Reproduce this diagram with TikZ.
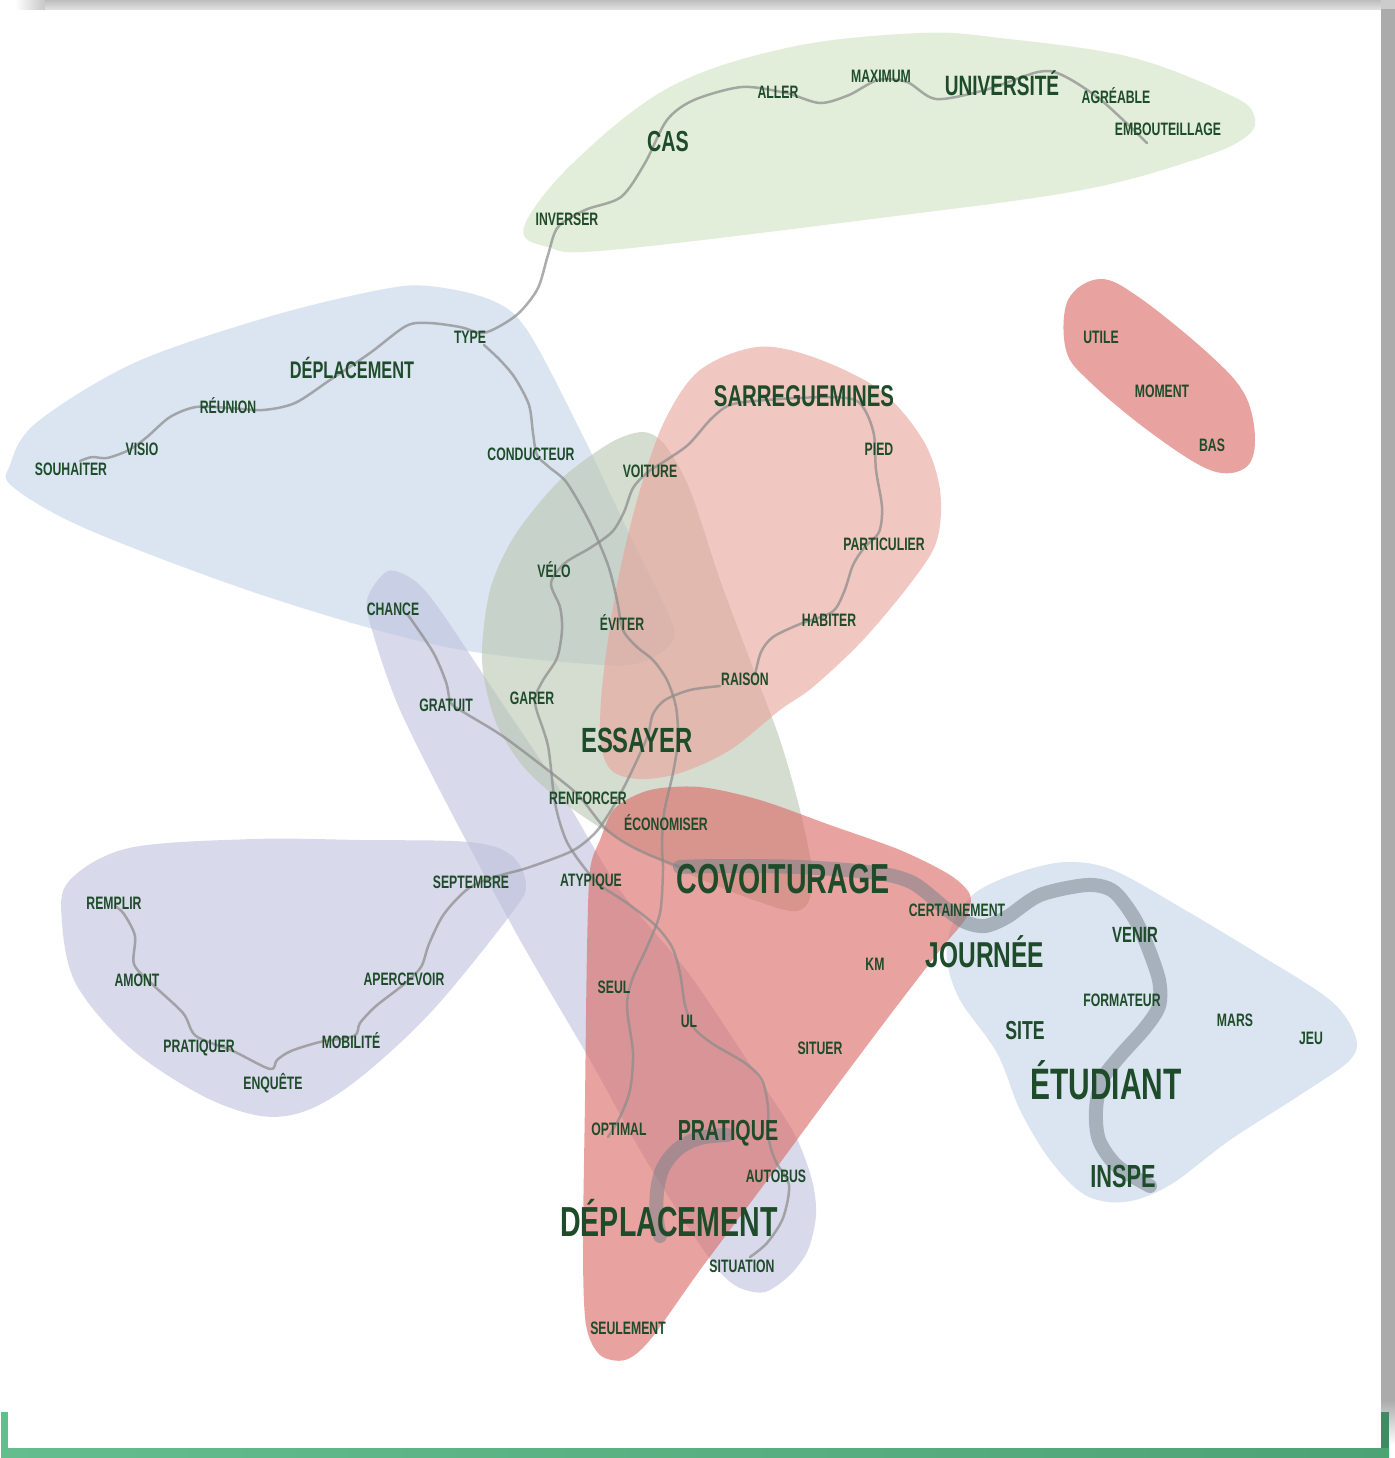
\documentclass[tikz,border=0pt]{standalone}
\usepackage{fontspec}
\newfontfamily\cf[FakeStretch=0.68]{Liberation Sans}
\definecolor{txt}{RGB}{30,76,42}
\definecolor{cBlue}{RGB}{195,213,232}
\definecolor{cGreen}{RGB}{207,228,193}
\definecolor{cOlive}{RGB}{185,198,177}
\definecolor{cPink}{RGB}{233,162,152}
\definecolor{cRed}{RGB}{218,103,97}
\definecolor{cLav}{RGB}{190,193,220}
\definecolor{cThick}{RGB}{120,130,138}
\definecolor{gA}{RGB}{99,189,140}
\definecolor{gB}{RGB}{78,163,116}
\begin{document}
\begin{tikzpicture}[x=0.5pt,y=-0.5pt,
 blob/.style={fill=#1,fill opacity=0.6,draw=none},
 gline/.style={draw=black!45,line width=1.25pt,opacity=0.72,line cap=round,line join=round},
 gthick/.style={draw=cThick,line width=7pt,opacity=0.52,line cap=round,line join=round},
 w/.style={font=\cf\bfseries\fontsize{#1}{#1}\selectfont,text=txt,inner sep=0pt,anchor=base}]
\useasboundingbox (0,0) rectangle (1395,1458);
\fill[white] (0,0) rectangle (1395,1458);
% frame shadows
\shade[left color=white,right color=black!22] (15,0) rectangle (45,9);
\shade[top color=black!26,bottom color=black!12] (45,0) rectangle (1381,9);
\fill[black!20] (1381,0) rectangle (1395,9);
\fill[black!33] (1381,9) rectangle (1395,1400);
\shade[top color=black!33,bottom color=white] (1381,1400) rectangle (1395,1445);
% green corner lines
\fill[gA] (1,1412) rectangle (8,1458);
\shade[left color=gA,right color=gB] (1,1448) rectangle (1389,1458);
\fill[gB!85!black] (1381,1412) rectangle (1389,1448);

% blobs
\fill[blob=cGreen] plot[smooth cycle,tension=0.6] coordinates {
 (524,227) (548,247) (611,250) (888,217) (1082,190) (1200,158) (1247,136) (1254,115) (1230,95) (1130,57) (1000,38) (920,33) (791,47) (670,87) (573,163)};
\fill[blob=cBlue] plot[smooth cycle,tension=0.55] coordinates {
 (429,286) (491,300) (527,330) (580,430) (625,525) (668,613) (673,640) (647,660) (603,665) (446,647) (268,597) (89,530) (13,487) (10,465) (36,423) (134,363) (268,317) (379,290)};
\fill[blob=cBlue] plot[smooth cycle,tension=0.55] coordinates {
 (1067,862) (1113,870) (1180,907) (1260,955) (1330,1000) (1355,1035) (1350,1060) (1300,1095) (1230,1140) (1170,1185) (1125,1202) (1085,1195) (1050,1160) (1020,1110) (997,1053) (960,1000) (947,960) (952,925) (975,893) (1020,872)};
\fill[blob=cLav] plot[smooth cycle,tension=0.55] coordinates {
 (254,839) (361,840) (469,842) (511,855) (526,885) (511,914) (433,1010) (361,1077) (308,1110) (261,1116) (201,1095) (129,1047) (76,984) (62,922) (69,881) (129,848)};
\fill[blob=cLav] plot[smooth cycle,tension=0.5] coordinates {
 (388,571) (415,581) (440,610) (500,700) (560,790) (620,890) (690,975) (760,1080) (795,1135) (812,1180) (816,1215) (808,1250) (790,1275) (765,1292) (740,1288) (720,1272) (690,1230) (640,1150) (590,1060) (520,940) (450,810) (400,710) (375,640) (367,600)};
\fill[blob=cOlive] plot[smooth cycle,tension=0.5] coordinates {
 (643,432) (665,445) (690,490) (720,580) (750,660) (780,740) (800,810) (812,870) (808,903) (790,911) (740,895) (680,870) (620,840) (560,800) (522,765) (495,720) (482,660) (490,590) (515,535) (560,480) (610,443)};
\fill[blob=cPink] plot[smooth cycle,tension=0.55] coordinates {
 (757,347) (813,357) (880,390) (923,440) (940,490) (937,540) (913,580) (863,640) (813,687) (780,710) (730,750) (680,773) (640,779) (612,771) (601,745) (601,700) (608,640) (620,570) (640,490) (665,420) (700,370)};
\fill[blob=cRed] plot[smooth cycle,tension=0.5] coordinates {
 (600,840) (615,808) (650,790) (700,787) (760,800) (830,825) (900,850) (950,875) (970,895) (966,918) (940,950) (890,1015) (830,1095) (760,1190) (700,1270) (650,1340) (625,1360) (600,1355) (586,1325) (583,1250) (585,1100) (587,950) (590,870)};
\fill[blob=cRed] plot[smooth cycle,tension=0.6] coordinates {
 (1100,279) (1140,298) (1210,355) (1245,395) (1255,440) (1245,468) (1210,470) (1150,432) (1090,382) (1066,350) (1068,300)};

% thin lines
\draw[gline] plot[smooth,tension=0.5] coordinates {
 (80,461) (92,457) (107,458) (129,450) (147,437) (170,417) (196,407) (230,408) (263,410) (295,403) (330,380) (370,353) (406,326) (429,323) (460,327) (482,333) (500,326) (520,312) (538,288) (548,255) (558,227) (585,210) (621,197) (645,163) (667,120) (694,100) (742,87) (786,93) (820,103) (849,95) (878,80) (907,82) (936,99) (985,90) (1038,72) (1062,75) (1101,100) (1147,143)};
\draw[gline] plot[smooth,tension=0.5] coordinates {
 (484,345) (500,360) (515,378) (529,405) (533,433) (537,455) (549,467) (567,483) (590,523) (608,565) (617,600) (623,630) (637,647) (653,660) (667,680) (676,707) (678,740) (673,773) (664,813) (662,847) (663,870) (660,913) (647,947) (632,980) (627,1007) (633,1053) (630,1090) (620,1117) (608,1137)};
\draw[gline] plot[smooth,tension=0.5] coordinates {
 (750,1257) (767,1243) (783,1218) (789,1185) (776,1162) (769,1140) (768,1107) (762,1080) (745,1063) (713,1044) (694,1028) (685,1005) (680,973) (672,947) (655,925) (627,903) (600,885) (583,866) (566,840) (555,803) (548,746) (535,703) (542,682) (557,658) (562,630) (560,607) (551,583) (565,563) (590,548) (612,532) (624,512) (633,488) (648,472) (668,459) (689,444) (712,418) (733,404) (780,399) (830,397) (855,400) (866,412) (874,435) (876,470) (882,507) (879,532) (864,548) (853,565) (844,592) (832,612) (800,624) (773,637) (761,652) (755,675)};
\draw[gline] plot[smooth,tension=0.5] coordinates {
 (720,686) (690,690) (665,700) (653,714) (648,735) (638,758) (624,787) (610,812) (595,833) (572,851) (527,868) (498,876) (469,888) (444,914) (429,944) (421,967) (403,985) (376,1006) (360,1023) (354,1036) (320,1042) (291,1051) (277,1060) (270,1069) (233,1051) (196,1036) (183,1013) (151,983) (134,964) (135,936) (124,914) (115,906)};
\draw[gline] plot[smooth,tension=0.5] coordinates {
 (408,615) (433,652) (446,682) (451,703) (465,713) (504,737) (558,778) (580,797) (603,826) (622,841) (647,854) (680,867)};
% thick lines
\draw[gthick] plot[smooth,tension=0.5] coordinates {
 (680,867) (720,866) (800,867) (877,873) (913,883) (945,908) (965,922) (985,926) (1007,917) (1040,895) (1087,885) (1113,891) (1133,916) (1147,945) (1159,980) (1159,1006) (1145,1028) (1120,1056) (1102,1080) (1096,1110) (1099,1140) (1117,1166) (1150,1186)};
\draw[gthick] plot[smooth,tension=0.6] coordinates {
 (727,1135) (700,1138) (678,1149) (663,1168) (657,1192) (657,1220) (660,1236)};

% labels
\node[w=9] (inverser) at (567,225.4) {INVERSER};
\node[w=14.5] (cas) at (668,151.4) {CAS};
\node[w=9] (aller) at (778,98.4) {ALLER};
\node[w=9] (maximum) at (881,82.4) {MAXIMUM};
\node[w=14] (universite) at (1002,95) {UNIVERSITÉ};
\node[w=9] (agreable) at (1116,103.4) {AGRÉABLE};
\node[w=9] (embouteillage) at (1168,135.4) {EMBOUTEILLAGE};
\node[w=9] (type) at (470,343.4) {TYPE};
\node[w=12] (deplA) at (352,378.6) {DÉPLACEMENT};
\node[w=9] (reunion) at (228,413.4) {RÉUNION};
\node[w=9] (visio) at (142,455.4) {VISIO};
\node[w=9] (souhaiter) at (71,475.4) {SOUHAITER};
\node[w=9] (conducteur) at (531,460.4) {CONDUCTEUR};
\node[w=15] (sarreguemines) at (804,406.7) {SARREGUEMINES};
\node[w=9] (pied) at (879,455.4) {PIED};
\node[w=9] (particulier) at (884,550.4) {PARTICULIER};
\node[w=9] (habiter) at (829,626.4) {HABITER};
\node[w=9] (raison) at (745,685.4) {RAISON};
\node[w=9] (voiture) at (650,477.4) {VOITURE};
\node[w=9] (velo) at (554,577.4) {VÉLO};
\node[w=9] (eviter) at (622,630.4) {ÉVITER};
\node[w=9] (garer) at (532,704.4) {GARER};
\node[w=17.5] (essayer) at (637,752.5) {ESSAYER};
\node[w=9] (renforcer) at (588,804.4) {RENFORCER};
\node[w=9] (economiser) at (666,830.4) {ÉCONOMISER};
\node[w=21] (covoiturage) at (783,893) {COVOITURAGE};
\node[w=9] (atypique) at (591,886.4) {ATYPIQUE};
\node[w=9] (septembre) at (471,888.4) {SEPTEMBRE};
\node[w=9] (chance) at (393,615.4) {CHANCE};
\node[w=9] (gratuit) at (446,711.4) {GRATUIT};
\node[w=9] (remplir) at (114,909.4) {REMPLIR};
\node[w=9] (amont) at (137,986.4) {AMONT};
\node[w=9] (pratiquer) at (199,1052.4) {PRATIQUER};
\node[w=9] (enquete) at (273,1089.4) {ENQUÊTE};
\node[w=9] (mobilite) at (351,1048.4) {MOBILITÉ};
\node[w=9] (apercevoir) at (404,985.4) {APERCEVOIR};
\node[w=9] (certainement) at (957,916.4) {CERTAINEMENT};
\node[w=18] (journee) at (985,967.9) {JOURNÉE};
\node[w=9] (km) at (875,970.4) {KM};
\node[w=11] (venir) at (1135,942.9) {VENIR};
\node[w=9] (formateur) at (1122,1006.4) {FORMATEUR};
\node[w=9] (mars) at (1235,1026.4) {MARS};
\node[w=9] (jeu) at (1311,1044.4) {JEU};
\node[w=13] (site) at (1025,1039.3) {SITE};
\node[w=22] (etudiant) at (1106,1099.8) {ÉTUDIANT};
\node[w=16] (inspe) at (1123,1187.5) {INSPE};
\node[w=9] (seul) at (614,993.4) {SEUL};
\node[w=9] (ul) at (689,1027.4) {UL};
\node[w=9] (situer) at (820,1054.4) {SITUER};
\node[w=9] (optimal) at (619,1135.4) {OPTIMAL};
\node[w=14.5] (pratique) at (728,1140.4) {PRATIQUE};
\node[w=9] (autobus) at (776,1182.4) {AUTOBUS};
\node[w=21] (deplB) at (669,1236) {DÉPLACEMENT};
\node[w=9] (situation) at (742,1272.4) {SITUATION};
\node[w=9] (seulement) at (628,1334.4) {SEULEMENT};
\node[w=9] (utile) at (1101,343.4) {UTILE};
\node[w=9] (moment) at (1162,397.4) {MOMENT};
\node[w=9] (bas) at (1212,451.4) {BAS};
\end{tikzpicture}
\end{document}
